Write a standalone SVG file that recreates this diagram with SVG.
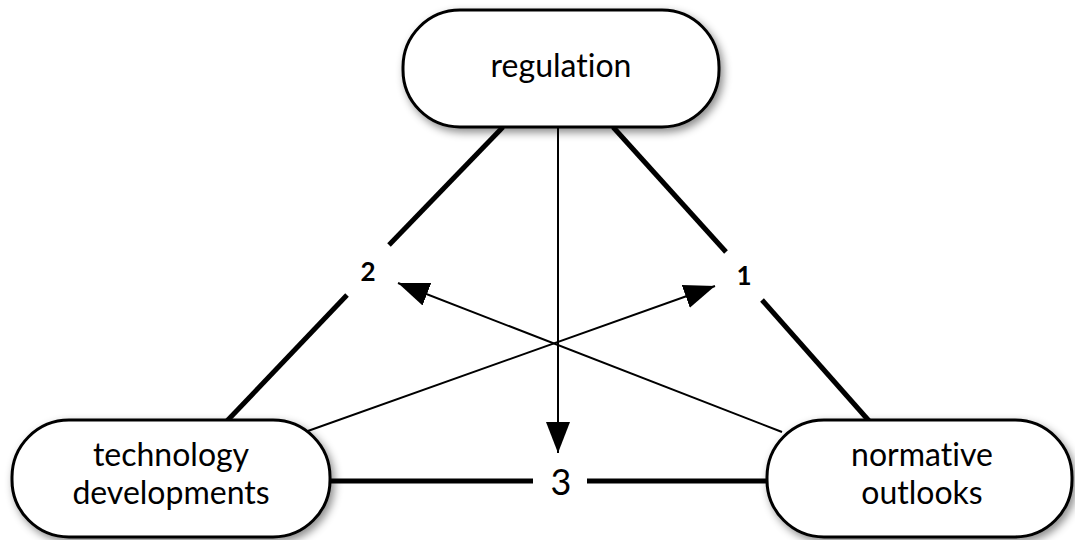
<svg xmlns="http://www.w3.org/2000/svg" width="1075" height="540" viewBox="0 0 1075 540">
  <style>
    .node { fill: #ffffff; stroke: #000000; stroke-width: 3; filter: url(#shadow); }
    .label { font-family: "Lato", "Open Sans", sans-serif; font-size: 32px; font-weight: normal; fill: #000000; text-anchor: middle; font-variant-ligatures: none; }
    .thick { stroke: #000000; stroke-width: 5; fill: none; }
    .thin { stroke: #000000; stroke-width: 2; fill: none; marker-end: url(#arrow); }
    .num { font-family: "Lato", "Open Sans", sans-serif; font-weight: bold; fill: #000000; text-anchor: middle; }
    .num3 { font-family: "Lato", "Open Sans", sans-serif; font-weight: normal; font-size: 36px; fill: #000000; text-anchor: middle; }
  </style>
  <defs>
    <filter id="shadow" x="-10%" y="-20%" width="130%" height="150%">
      <feDropShadow dx="3" dy="4" stdDeviation="4" flood-color="#000" flood-opacity="0.45"/>
    </filter>
    <marker id="arrow" markerUnits="userSpaceOnUse" markerWidth="32" markerHeight="26" viewBox="0 0 32 26" refX="31" refY="13" orient="auto">
      <path d="M0,1 L31,13 L0,25 Z" fill="#000"/>
    </marker>
  </defs>
  <rect width="1075" height="540" fill="#ffffff"/>
  <g id="connectors">
    <line class="thick" x1="503" y1="127" x2="389" y2="245"/>
    <line class="thick" x1="347" y1="295" x2="226" y2="422"/>
    <line class="thick" x1="613" y1="127" x2="726" y2="252"/>
    <line class="thick" x1="762" y1="300" x2="870" y2="422"/>
    <line class="thick" x1="330" y1="481" x2="533" y2="481"/>
    <line class="thick" x1="587" y1="481" x2="767" y2="481"/>
    <line class="thin" x1="558" y1="127" x2="558" y2="453"/>
    <line class="thin" x1="305" y1="432" x2="715" y2="286"/>
    <line class="thin" x1="782" y1="432" x2="398" y2="283"/>
    <text class="num" x="368" y="281" font-size="26">2</text>
    <text class="num" x="744" y="285" font-size="26">1</text>
    <text class="num3" x="561" y="495">3</text>
  </g>
  <g id="node-regulation">
    <rect class="node" x="403" y="10" width="316" height="117" rx="57" ry="57"/>
    <text class="label" x="561" y="77">regulation</text>
  </g>
  <g id="node-technology">
    <rect class="node" x="12" y="420" width="318" height="117" rx="57" ry="57"/>
    <text class="label" x="171" y="466">technology</text>
    <text class="label" x="171" y="504">developments</text>
  </g>
  <g id="node-normative">
    <rect class="node" x="767" y="420" width="305" height="117" rx="57" ry="57"/>
    <text class="label" x="922" y="466">normative</text>
    <text class="label" x="922" y="504">outlooks</text>
  </g>
</svg>
